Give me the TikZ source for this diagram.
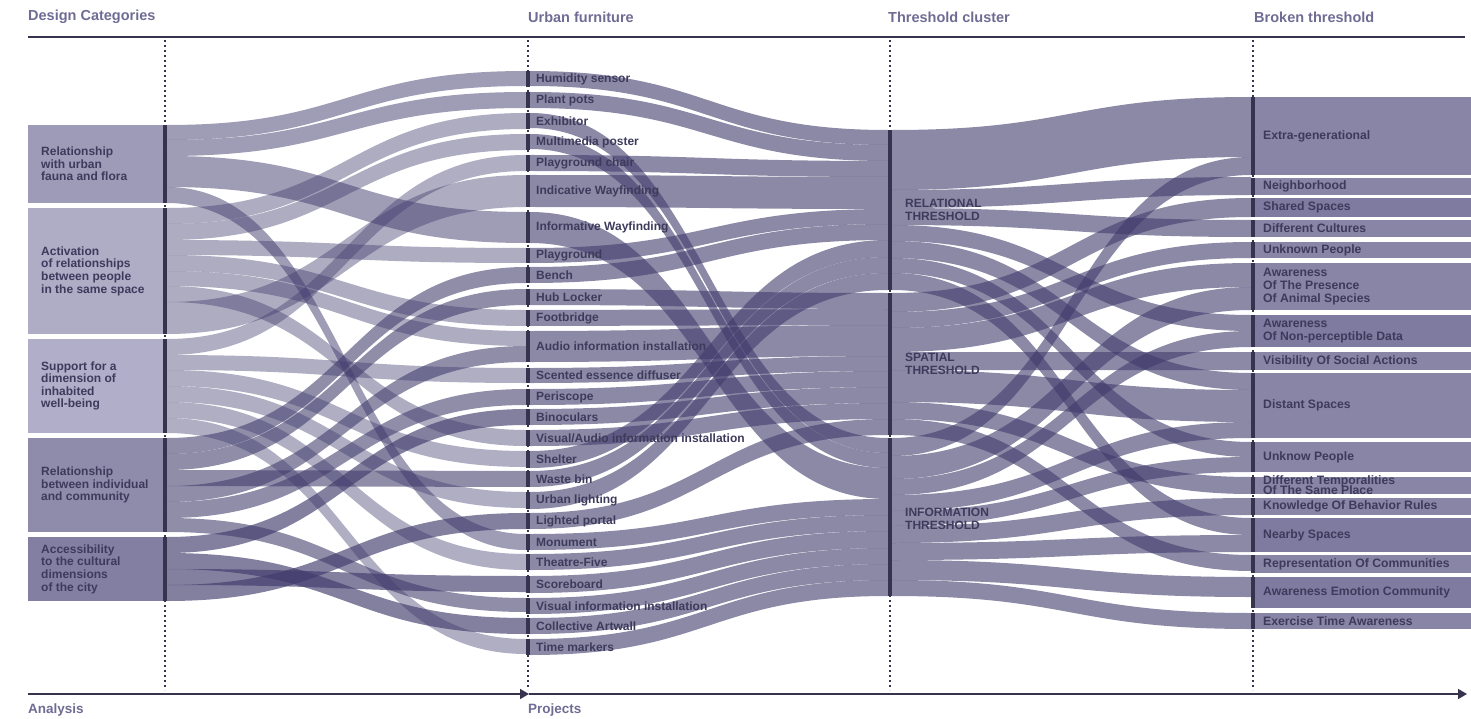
\documentclass[tikz,border=0pt]{standalone}
\usepackage{fontspec}
\setmainfont{Liberation Sans}
\usetikzlibrary{arrows.meta}
\definecolor{flowc}{HTML}{3F3A6B}
\definecolor{barc}{HTML}{37334F}
\definecolor{labc}{HTML}{3D3A5C}
\definecolor{headc}{HTML}{6F6C94}
\definecolor{catA}{HTML}{9E9BB8}
\definecolor{catB}{HTML}{AFACC6}
\definecolor{catC}{HTML}{B1AEC9}
\definecolor{catD}{HTML}{8F8BAB}
\definecolor{catE}{HTML}{837FA2}
\definecolor{brk}{HTML}{8985A7}
\definecolor{brkd}{HTML}{7E7AA0}
\newcommand\sband[6]{\fill[flowc,fill opacity=#6] (#1,#2) .. controls ({(#1+#3)/2},#2) and ({(#1+#3)/2},#4) .. (#3,#4) -- (#3,{#4+#5}) .. controls ({(#1+#3)/2},{#4+#5}) and ({(#1+#3)/2},{#2+#5}) .. (#1,{#2+#5}) -- cycle;}
\tikzset{
  lab/.style={anchor=west,inner sep=0pt,font=\fontsize{12}{12.6}\selectfont\bfseries,text=labc,align=left},
  blab/.style={anchor=west,inner sep=0pt,font=\fontsize{12.2}{12.6}\selectfont\bfseries,text=labc,align=left},
  head/.style={anchor=west,inner sep=0pt,font=\fontsize{14.5}{16}\selectfont\bfseries,text=headc},
  axlab/.style={anchor=west,inner sep=0pt,font=\fontsize{13.5}{15}\selectfont\bfseries,text=headc},
  dotline/.style={barc,line width=1.6pt,dash pattern=on 2.4pt off 2.6pt},
}
\newcommand\furn[4]{\fill[barc] (526,#2) rectangle (530,#3); \node[lab] (#1) at (536,{(#2+#3)/2}) {#4};}
\newcommand\brkbox[5]{\fill[#5] (1255,#2) rectangle (1471,#3); \fill[barc] (1251,#2) rectangle (1255,#3); \node[blab] (#1) at (1263,{(#2+#3)/2}) {#4};}
\newcommand\catbox[5]{\fill[#5] (28,#2) rectangle (165,#3); \fill[barc] (163,#2) rectangle (167,#3); \node[lab] (#1) at (41,{(#2+#3)/2}) {#4};}
\begin{document}
\begin{tikzpicture}[x=1pt,y=-1pt]
\useasboundingbox (0,0) rectangle (1471,719);
% headers and frame lines
\node[head] (h1) at (28,17) {Design Categories};
\node[head] (h2) at (528,17) {Urban furniture};
\node[head] (h3) at (888,17) {Threshold cluster};
\node[head] (h4) at (1254,17) {Broken threshold};
\draw[barc,line width=1.5pt] (28,37) -- (1465,37);
\foreach \x in {165,528,890,1253} \draw[dotline] (\x,40) -- (\x,690);
\draw[barc,line width=1.5pt,-{Triangle[length=9pt,width=10pt]}] (28,694) -- (529,694);
\draw[barc,line width=1.5pt,-{Triangle[length=9pt,width=10pt]}] (529,694) -- (1467,694);
\node[axlab] (a1) at (28,710) {Analysis};
\node[axlab] (a2) at (528,710) {Projects};
% category boxes
\catbox{c1}{125}{203}{Relationship\\with urban\\fauna and flora}{catA}
\catbox{c2}{208}{334}{Activation\\of relationships\\between people\\in the same space}{catB}
\catbox{c3}{339}{433}{Support for a\\dimension of\\inhabited\\well-being}{catC}
\catbox{c4}{438}{532}{Relationship\\between individual\\and community}{catD}
\catbox{c5}{537}{601}{Accessibility\\to the cultural\\dimensions\\of the city}{catE}
% broken threshold boxes
\brkbox{b1}{97}{175}{Extra-generational}{brk}
\brkbox{b2}{178}{195}{Neighborhood}{brk}
\brkbox{b3}{198}{217}{Shared Spaces}{brkd}
\brkbox{b4}{220}{237}{Different Cultures}{brk}
\brkbox{b5}{242}{258}{Unknown People}{brk}
\brkbox{b6}{263}{310}{Awareness\\Of The Presence\\Of Animal Species}{brk}
\brkbox{b7}{315}{347}{Awareness\\Of Non-perceptible Data}{brkd}
\brkbox{b8}{352}{370}{Visibility Of Social Actions}{brk}
\brkbox{b9}{373}{438}{Distant Spaces}{brk}
\brkbox{b10}{442}{472}{Unknow People}{brk}
\brkbox{b11}{477}{494}{Different Temporalities\\[-2.5pt]Of The Same Place}{brk}
\brkbox{b12}{498}{515}{Knowledge Of Behavior Rules}{brk}
\brkbox{b13}{518}{552}{Nearby Spaces}{brkd}
\brkbox{b14}{555}{573}{Representation Of Communities}{brk}
\brkbox{b15}{577}{608}{Awareness Emotion Community}{brkd}
\brkbox{b16}{613}{629}{Exercise Time Awareness}{brk}
% left flows
\foreach \s/\t/\w in {125/71/15,140/92/16,156/212/31,187/534/16} {\sband{167}{\s}{526}{\t}{\w}{0.5}}
\foreach \s/\t/\w in {208/113/16,224/134/16,240/248/15,255/310/16,271/331/15,286/430/16,302/175/32} {\sband{167}{\s}{526}{\t}{\w}{0.42}}
\foreach \s/\t/\w in {339/155/16,355/368/15,370/451/16,386/492/16,402/554/16,418/639/15} {\sband{167}{\s}{526}{\t}{\w}{0.41}}
\foreach \s/\t/\w in {438/267/16,454/289/16,470/471/16,486/346/16,502/389/16,518/598/14} {\sband{167}{\s}{526}{\t}{\w}{0.58}}
\foreach \s/\t/\w in {537/409/16,553/618/16,569/576/16,585/513/16} {\sband{167}{\s}{526}{\t}{\w}{0.65}}
% middle flows
\foreach \s/\t/\w in {71/130/15,92/145/16,155/161/16,175/177/32,248/209/15,267/224/16,451/240/17,471/257/16,492/273/17,
  289/293/16,310/309/16,331/325/31,368/356/15,389/371/16,409/387/16,430/403/16,513/419/16,
  113/438/15,134/453/15,212/468/31,534/499/16,554/515/16,576/531/17,598/548/16,618/564/16,639/580/16} {\sband{530}{\s}{888}{\t}{\w}{0.6}}
% right flows
\foreach \s/\t/\w in {130/97/60,190/177/18,208/220/17,225/315/16,241/373/17,258/442/15,273/518/17,
  293/198/19,312/242/16,328/263/24,352/352/18,370/390/32,402/477/17,419/555/16,
  438/157/18,456/287/23,479/331/16,495/422/16,511/457/15,526/498/17,543/535/17,560/577/20,580/613/16} {\sband{892}{\s}{1251}{\t}{\w}{0.6}}
% threshold bars
\fill[barc] (888,130) rectangle (892,290);
\fill[barc] (888,293) rectangle (892,435);
\fill[barc] (888,438) rectangle (892,596);
\node[lab] (t1) at (905,210) {RELATIONAL\\THRESHOLD};
\node[lab] (t2) at (905,364) {SPATIAL\\THRESHOLD};
\node[lab] (t3) at (905,519) {INFORMATION\\THRESHOLD};
% furniture
\furn{f1}{71}{87}{Humidity sensor}
\furn{f2}{92}{108}{Plant pots}
\furn{f3}{113}{129}{Exhibitor}
\furn{f4}{134}{150}{Multimedia poster}
\furn{f5}{155}{171}{Playground chair}
\furn{f6}{175}{207}{Indicative Wayfinding}
\furn{f7}{212}{243}{Informative Wayfinding}
\furn{f8}{248}{263}{Playground}
\furn{f9}{267}{283}{Bench}
\furn{f10}{289}{305}{Hub Locker}
\furn{f11}{310}{326}{Footbridge}
\furn{f12}{331}{362}{Audio information installation}
\furn{f13}{368}{383}{Scented essence diffuser}
\furn{f14}{389}{405}{Periscope}
\furn{f15}{409}{425}{Binoculars}
\furn{f16}{430}{446}{Visual/Audio information installation}
\furn{f17}{451}{468}{Shelter}
\furn{f18}{471}{487}{Waste bin}
\furn{f19}{492}{509}{Urban lighting}
\furn{f20}{513}{529}{Lighted portal}
\furn{f21}{534}{550}{Monument}
\furn{f22}{554}{570}{Theatre-Five}
\furn{f23}{576}{593}{Scoreboard}
\furn{f24}{598}{614}{Visual information installation}
\furn{f25}{618}{634}{Collective Artwall}
\furn{f26}{639}{655}{Time markers}
\end{tikzpicture}
\end{document}
